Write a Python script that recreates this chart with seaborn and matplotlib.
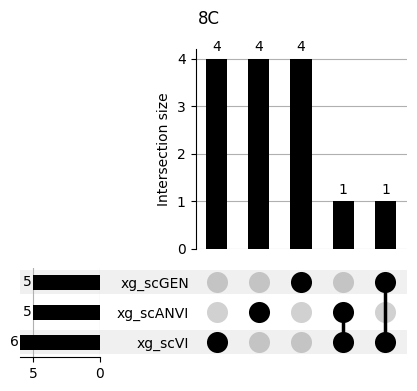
import matplotlib
matplotlib.use("Agg")
import matplotlib.pyplot as plt
import matplotlib.transforms as mtransforms
import seaborn as sns
import pandas as pd

# data
sets = ["xg_scGEN", "xg_scANVI", "xg_scVI"]
set_totals = [5, 5, 6]
inter_sizes = [4, 4, 4, 1, 1]
# membership of each intersection column (which sets are in it)
inter_members = [
    ["xg_scVI"],
    ["xg_scANVI"],
    ["xg_scGEN"],
    ["xg_scANVI", "xg_scVI"],
    ["xg_scGEN", "xg_scVI"],
]

W, H = 417, 391
fig = plt.figure(figsize=(W / 100, H / 100), dpi=100)


def box(x0, y0, x1, y1):
    # pixel box (from top-left) -> figure fraction rect
    return [x0 / W, (H - y1) / H, (x1 - x0) / W, (y1 - y0) / H]


ax_mat = fig.add_axes(box(195.5, 267.5, 406.5, 357))
ax_bar = fig.add_axes(box(195.5, 49, 406.5, 249))
ax_tot = fig.add_axes(box(20, 267.5, 100, 357))

cols = [str(i) for i in range(len(inter_sizes))]

# intersection bars
df_int = pd.DataFrame({"col": cols, "size": inter_sizes})
sns.barplot(data=df_int, x="col", y="size", order=cols, color="black",
            width=0.5, saturation=1, ax=ax_bar, zorder=3)
ax_bar.bar_label(ax_bar.containers[0], padding=3, fontsize=10)
ax_bar.set_xlim(-0.5, len(cols) - 0.5)
ax_bar.set_ylim(0, 4.2)
ax_bar.set_yticks([0, 1, 2, 3, 4])
ax_bar.yaxis.grid(True, color="#b0b0b0", lw=0.8, zorder=0)
ax_bar.set_axisbelow(True)
ax_bar.set_xticks([])
ax_bar.set_xlabel("")
ax_bar.set_ylabel("Intersection size", fontsize=10)
for s in ["top", "right", "bottom"]:
    ax_bar.spines[s].set_visible(False)

# matrix
rows = {s: i for i, s in enumerate(sets)}
trans = mtransforms.blended_transform_factory(fig.transFigure, ax_mat.transData)
for i in range(0, len(sets), 2):
    ax_mat.add_patch(plt.Rectangle((20 / W, i - 0.4), (406.5 - 20) / W, 0.8,
                                   transform=trans, color="#f0f0f0",
                                   clip_on=False, zorder=0, lw=0))

dots = []
for c, members in enumerate(inter_members):
    for s in sets:
        dots.append({"x": c, "y": rows[s], "on": s in members})
df_dots = pd.DataFrame(dots)
sns.scatterplot(data=df_dots[~df_dots["on"]], x="x", y="y", color="black",
                alpha=0.18, s=230, linewidth=0, ax=ax_mat, zorder=2)
sns.scatterplot(data=df_dots[df_dots["on"]], x="x", y="y", color="black",
                s=230, linewidth=0, ax=ax_mat, zorder=3)
for c, members in enumerate(inter_members):
    ys = [rows[m] for m in members]
    if len(ys) > 1:
        ax_mat.plot([c, c], [min(ys), max(ys)], color="black", lw=2.5, zorder=2)

ax_mat.set_xlim(-0.5, len(cols) - 0.5)
ax_mat.set_ylim(len(sets) - 0.5, -0.5)
ax_mat.set_yticks(range(len(sets)))
ax_mat.set_yticklabels(sets, fontsize=10)
ax_mat.tick_params(axis="y", length=0, pad=4.5)
ax_mat.set_xticks([])
ax_mat.set_xlabel("")
ax_mat.set_ylabel("")
ax_mat.patch.set_visible(False)
for s in ax_mat.spines.values():
    s.set_visible(False)

# set totals
df_tot = pd.DataFrame({"set": sets, "total": set_totals})
sns.barplot(data=df_tot, x="total", y="set", order=sets, orient="h",
            color="black", width=0.5, saturation=1, ax=ax_tot, zorder=3)
for i, v in enumerate(set_totals):
    ax_tot.annotate(str(v), (v, i), xytext=(-1, 0), textcoords="offset points",
                    ha="right", va="center", fontsize=10, annotation_clip=False)
ax_tot.set_xlim(6, 0)
ax_tot.set_ylim(len(sets) - 0.5, -0.5)
ax_tot.set_xticks([5, 0])
ax_tot.xaxis.grid(True, color="#b0b0b0", lw=0.8, zorder=0)
ax_tot.set_yticks([])
ax_tot.set_xlabel("")
ax_tot.set_ylabel("")
ax_tot.patch.set_visible(False)
for s in ["top", "right", "left"]:
    ax_tot.spines[s].set_visible(False)

fig.suptitle("8C", fontsize=12, y=0.975)
fig.savefig("out.png", dpi=100)
